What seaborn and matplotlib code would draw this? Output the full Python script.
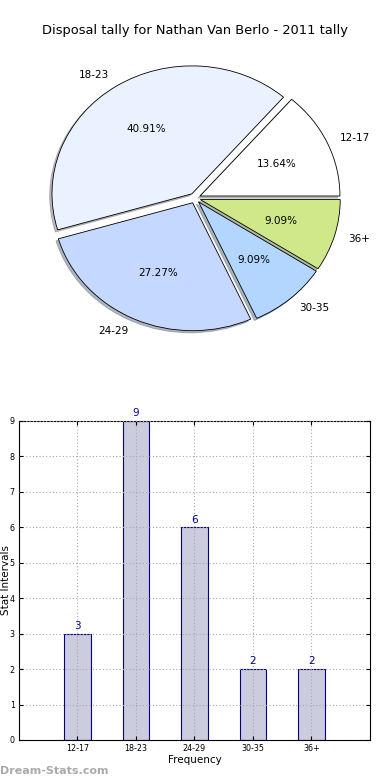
import matplotlib
matplotlib.use("Agg")
import matplotlib.pyplot as plt
import seaborn as sns

# datos
grupos = ["12-17", "18-23", "24-29", "30-35", "36+"]
frecuencias = [3, 9, 6, 2, 2]
colores_pie = ["#ffffff", "#ebf2ff", "#c5d8ff", "#b3d6ff", "#cfe98a"]
titulo = "Disposal tally for Nathan Van Berlo - 2011 tally"

plt.rcParams["font.family"] = ["DejaVu Sans"]

fig = plt.figure(figsize=(3.9, 7.8), dpi=100)

# pastel arriba
ax_pie = fig.add_axes([0.0513, 0.541, 0.897, 0.410])
ax_pie.pie(
    frecuencias,
    labels=grupos,
    colors=colores_pie,
    explode=[0.04] * len(grupos),
    autopct="%1.2f%%",
    shadow={"ox": -0.012, "oy": -0.012, "shade": 0.5},
    startangle=0,
    wedgeprops={"edgecolor": "black", "linewidth": 0.6},
    textprops={"fontsize": 7.5},
)
ax_pie.set_aspect("auto")
ax_pie.set_xlim(-1.25, 1.25)
ax_pie.set_ylim(-1.25, 1.25)
fig.text(0.5, 0.961, titulo, ha="center", va="center", fontsize=9.4)

# barras abajo
ax_bar = fig.add_axes([0.0487, 0.0513, 0.900, 0.409])
sns.barplot(x=grupos, y=frecuencias, ax=ax_bar, color="#ccccdf", saturation=1,
            edgecolor="navy", linewidth=0.8, width=0.45)
ax_bar.bar_label(ax_bar.containers[0], color="navy", fontsize=7.5, padding=2)
ax_bar.set_xlim(-1, 5)
ax_bar.set_ylim(0, 9)
ax_bar.set_yticks(range(0, 10))
ax_bar.grid(True, linestyle=(0, (1, 2)), color="#aaaaaa", linewidth=0.8)
ax_bar.set_axisbelow(False)
ax_bar.tick_params(direction="in", top=True, right=True, labelsize=5.8, length=3, pad=3)
ax_bar.set_xlabel("Frequency", fontsize=7.5, labelpad=1)
ax_bar.set_ylabel("Stat Intervals", fontsize=7.5)
ax_bar.yaxis.set_label_coords(-0.024, 0.5)
for s in ax_bar.spines.values():
    s.set_linewidth(0.8)

fig.text(0.0, 0.005, "Dream-Stats.com", color="#aaaaaa", fontsize=8, fontweight="bold",
         ha="left", va="bottom")

fig.savefig("out.png", dpi=100)
